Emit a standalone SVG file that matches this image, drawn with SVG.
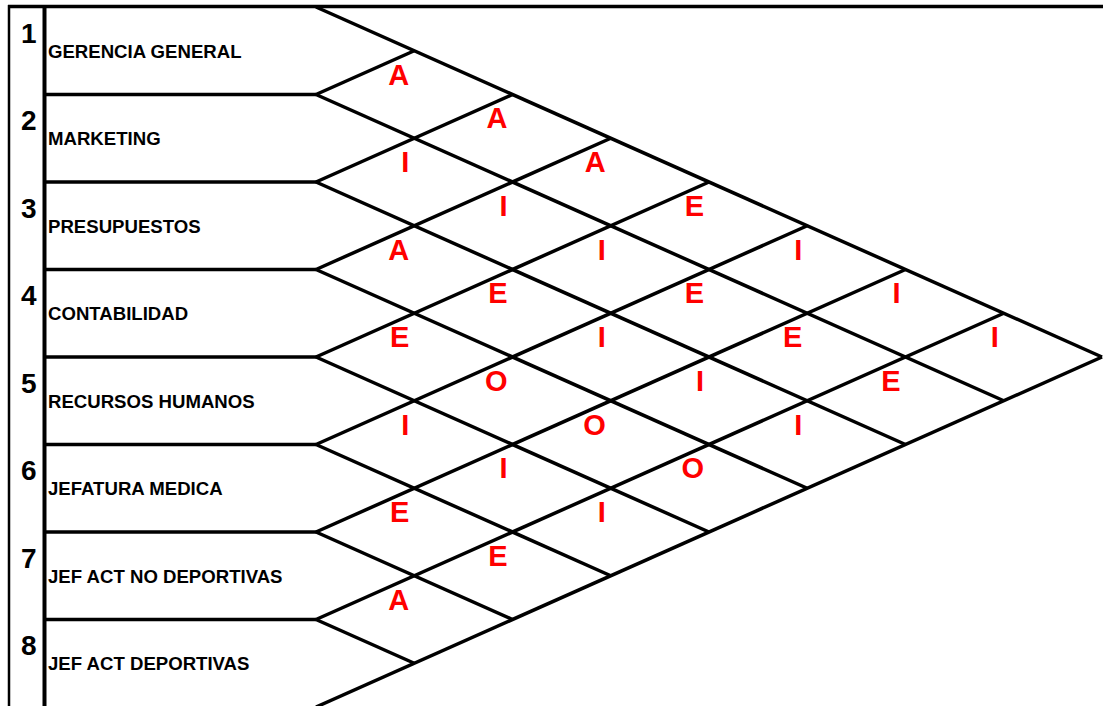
<svg xmlns="http://www.w3.org/2000/svg" width="1103" height="706" viewBox="0 0 1103 706">
<style>
.ln{stroke:#000;stroke-width:3.5;fill:none;stroke-linecap:butt}
.num{font-family:"Liberation Sans",Arial,sans-serif;font-weight:bold;font-size:28px;fill:#000}
.name{font-family:"Liberation Sans",Arial,sans-serif;font-weight:bold;font-size:18.6px;fill:#000}
.rel{font-family:"Liberation Sans",Arial,sans-serif;font-weight:bold;font-size:29px;fill:#FF0000;text-anchor:end}
</style>
<rect width="1103" height="706" fill="#fff"/>
<g id="frame">
<line class="ln" x1="8" y1="6.5" x2="1103" y2="6.5"/>
<line class="ln" x1="9" y1="5" x2="9" y2="706" style="stroke-width:2.5"/>
<line class="ln" x1="44.5" y1="5" x2="44.5" y2="706" style="stroke-width:4"/>
</g>
<g id="row1"><text class="num" x="21" y="42.5">1</text><text class="name" x="48" y="57.5">GERENCIA GENERAL</text></g>
<g id="row2"><text class="num" x="21" y="130">2</text><text class="name" x="48" y="145">MARKETING</text></g>
<g id="row3"><text class="num" x="21" y="217.5">3</text><text class="name" x="48" y="232.5">PRESUPUESTOS</text></g>
<g id="row4"><text class="num" x="21" y="305">4</text><text class="name" x="48" y="320">CONTABILIDAD</text></g>
<g id="row5"><text class="num" x="21" y="392.5">5</text><text class="name" x="48" y="407.5">RECURSOS HUMANOS</text></g>
<g id="row6"><text class="num" x="21" y="480">6</text><text class="name" x="48" y="495">JEFATURA MEDICA</text></g>
<g id="row7"><text class="num" x="21" y="567.5">7</text><text class="name" x="48" y="582.5">JEF ACT NO DEPORTIVAS</text></g>
<g id="row8"><text class="num" x="21" y="655">8</text><text class="name" x="48" y="670">JEF ACT DEPORTIVAS</text></g>
<g id="connectors">
<line class="ln" x1="44" y1="94.5" x2="316" y2="94.5"/>
<line class="ln" x1="44" y1="182" x2="316" y2="182"/>
<line class="ln" x1="44" y1="269.5" x2="316" y2="269.5"/>
<line class="ln" x1="44" y1="357" x2="316" y2="357"/>
<line class="ln" x1="44" y1="444.5" x2="316" y2="444.5"/>
<line class="ln" x1="44" y1="532" x2="316" y2="532"/>
<line class="ln" x1="44" y1="619.5" x2="316" y2="619.5"/>
<line class="ln" x1="316" y1="7" x2="1102" y2="357"/>
<line class="ln" x1="316" y1="94.5" x2="1003.75" y2="400.75"/>
<line class="ln" x1="316" y1="182" x2="905.5" y2="444.5"/>
<line class="ln" x1="316" y1="269.5" x2="807.25" y2="488.25"/>
<line class="ln" x1="316" y1="357" x2="709" y2="532"/>
<line class="ln" x1="316" y1="444.5" x2="610.75" y2="575.75"/>
<line class="ln" x1="316" y1="532" x2="512.5" y2="619.5"/>
<line class="ln" x1="316" y1="619.5" x2="414.25" y2="663.25"/>
<line class="ln" x1="316" y1="94.5" x2="414.25" y2="50.75"/>
<line class="ln" x1="316" y1="182" x2="512.5" y2="94.5"/>
<line class="ln" x1="316" y1="269.5" x2="610.75" y2="138.25"/>
<line class="ln" x1="316" y1="357" x2="709" y2="182"/>
<line class="ln" x1="316" y1="444.5" x2="807.25" y2="225.75"/>
<line class="ln" x1="316" y1="532" x2="905.5" y2="269.5"/>
<line class="ln" x1="316" y1="619.5" x2="1003.75" y2="313.25"/>
<line class="ln" x1="316" y1="707" x2="1102" y2="357"/>
</g>
<g id="relationships">
<text class="rel" x="409.25" y="84.5">A</text>
<text class="rel" x="409.25" y="172">I</text>
<text class="rel" x="409.25" y="259.5">A</text>
<text class="rel" x="409.25" y="347">E</text>
<text class="rel" x="409.25" y="434.5">I</text>
<text class="rel" x="409.25" y="522">E</text>
<text class="rel" x="409.25" y="609.5">A</text>
<text class="rel" x="507.5" y="128.25">A</text>
<text class="rel" x="507.5" y="215.75">I</text>
<text class="rel" x="507.5" y="303.25">E</text>
<text class="rel" x="507.5" y="390.75">O</text>
<text class="rel" x="507.5" y="478.25">I</text>
<text class="rel" x="507.5" y="565.75">E</text>
<text class="rel" x="605.75" y="172">A</text>
<text class="rel" x="605.75" y="259.5">I</text>
<text class="rel" x="605.75" y="347">I</text>
<text class="rel" x="605.75" y="434.5">O</text>
<text class="rel" x="605.75" y="522">I</text>
<text class="rel" x="704" y="215.75">E</text>
<text class="rel" x="704" y="303.25">E</text>
<text class="rel" x="704" y="390.75">I</text>
<text class="rel" x="704" y="478.25">O</text>
<text class="rel" x="802.25" y="259.5">I</text>
<text class="rel" x="802.25" y="347">E</text>
<text class="rel" x="802.25" y="434.5">I</text>
<text class="rel" x="900.5" y="303.25">I</text>
<text class="rel" x="900.5" y="390.75">E</text>
<text class="rel" x="998.75" y="347">I</text>
</g>
</svg>
